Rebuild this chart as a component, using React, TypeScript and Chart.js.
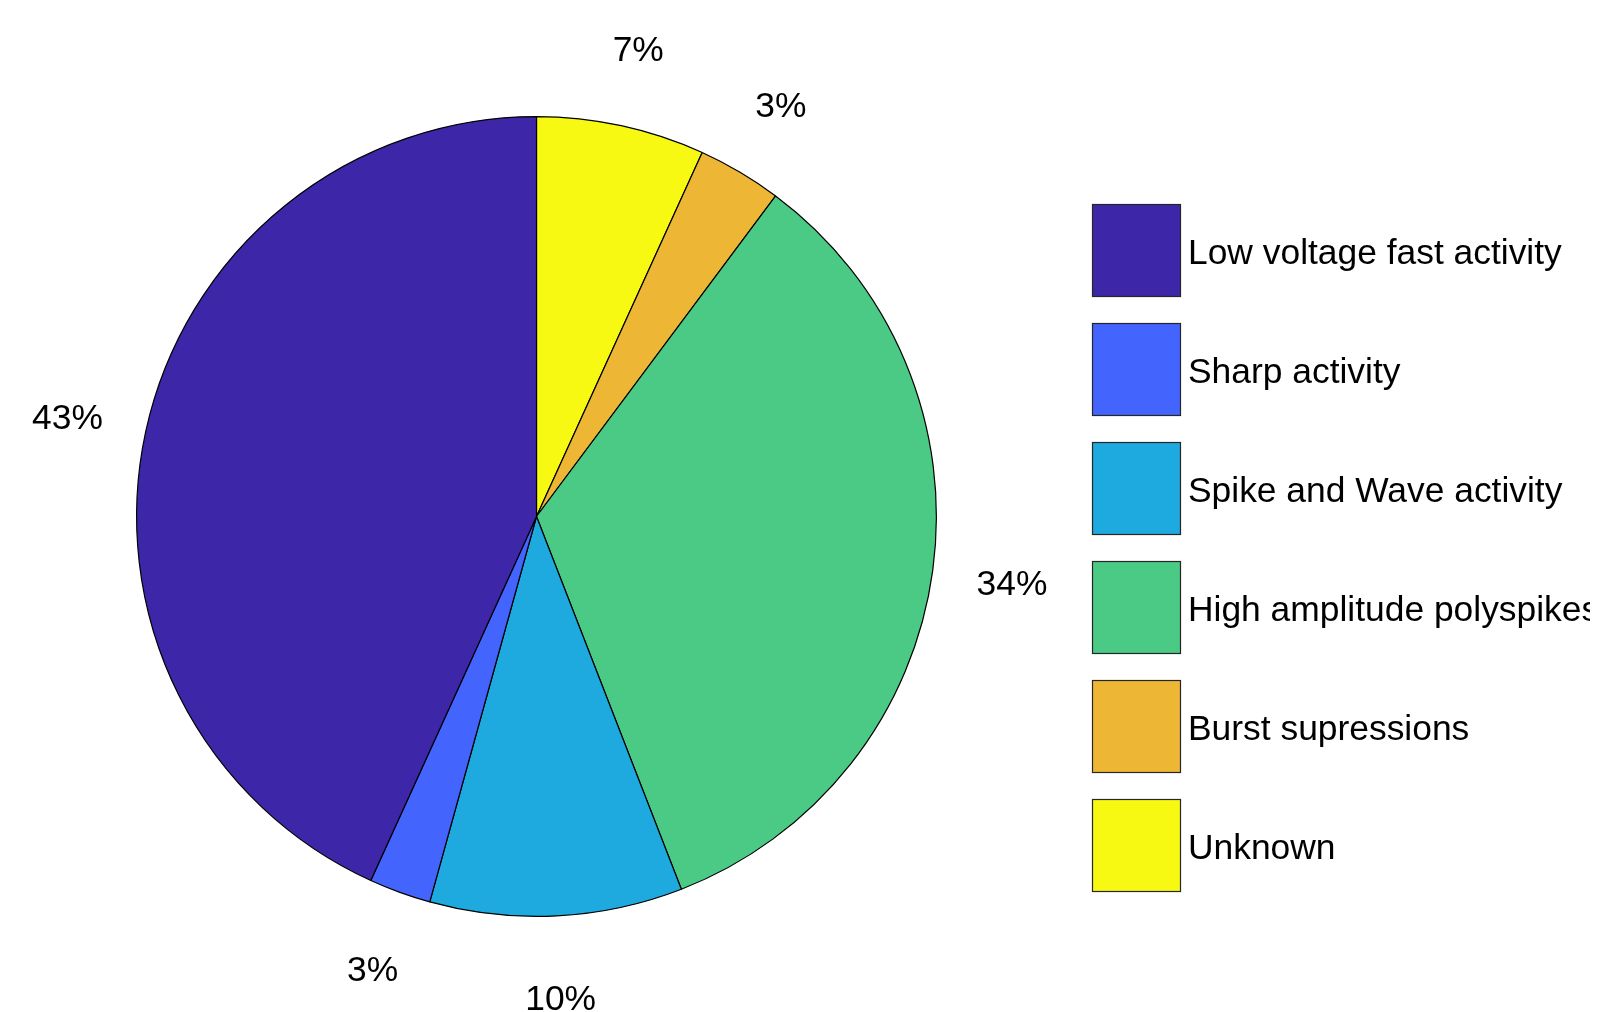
import React, { useEffect, useRef } from "react";
import { Chart, registerables } from "chart.js";

Chart.register(...registerables);

const categories = [
  "Low voltage fast activity",
  "Sharp activity",
  "Spike and Wave activity",
  "High amplitude polyspikes",
  "Burst supressions",
  "Unknown",
];
const percentages = [43.2, 2.5, 10.2, 33.9, 3.4, 6.8];
const sliceColors = ["#3E26A8", "#4464FE", "#1EA9DF", "#4ACA84", "#EDB735", "#F8F913"];

const FONT = "'Liberation Sans', Arial, Helvetica, sans-serif";

export default function App() {
  const ref = useRef<HTMLCanvasElement>(null);

  useEffect(() => {
    if (!ref.current) return;
    // MATLAB draws counter-clockwise from the top; Chart.js draws clockwise,
    // so feed the slices in reverse order.
    const order = categories.map((_, i) => categories.length - 1 - i);
    const total = percentages.reduce((a, b) => a + b, 0);

    const overlay = {
      id: "pieOverlay",
      afterDatasetsDraw(chart: any) {
        const ctx = chart.ctx as CanvasRenderingContext2D;
        const meta = chart.getDatasetMeta(0);
        const data = chart.data.datasets[0].data as number[];
        ctx.save();
        ctx.font = `35.4px ${FONT}`;
        ctx.fillStyle = "#000";
        ctx.textAlign = "center";
        ctx.textBaseline = "middle";
        meta.data.forEach((arc: any, j: number) => {
          const p = arc.getProps(["x", "y", "startAngle", "endAngle", "outerRadius"], true);
          const mid = (p.startAngle + p.endAngle) / 2;
          const r = p.outerRadius * 1.2;
          const label = Math.round((data[j] / total) * 100) + "%";
          ctx.fillText(label, p.x + r * Math.cos(mid), p.y + r * Math.sin(mid) + 4);
        });

        // legend
        const left = 1092;
        const boxW = 89;
        const boxH = 93;
        const firstTop = 204;
        const step = 119;
        ctx.beginPath();
        ctx.rect(0, 0, 1590, chart.height);
        ctx.clip();
        categories.forEach((name, i) => {
          const top = firstTop + i * step;
          ctx.fillStyle = sliceColors[i];
          ctx.fillRect(left, top, boxW, boxH);
          ctx.strokeStyle = "#262626";
          ctx.lineWidth = 1.2;
          ctx.strokeRect(left + 0.5, top + 0.5, boxW - 1, boxH - 1);
          ctx.fillStyle = "#000";
          ctx.textAlign = "left";
          ctx.textBaseline = "alphabetic";
          ctx.fillText(name, 1188, top + boxH / 2 + 13.5);
        });
        ctx.restore();
      },
    };

    const chart = new Chart(ref.current, {
      type: "pie",
      data: {
        labels: order.map((i) => categories[i]),
        datasets: [
          {
            data: order.map((i) => percentages[i]),
            backgroundColor: order.map((i) => sliceColors[i]),
            borderColor: "#000",
            borderWidth: 1.2,
          },
        ],
      },
      options: {
        responsive: false,
        animation: false,
        devicePixelRatio: 1,
        layout: { padding: { left: 136, right: 674, top: 116, bottom: 95 } },
        plugins: {
          legend: { display: false },
          tooltip: { enabled: false },
        },
      },
      plugins: [overlay],
    });
    return () => chart.destroy();
  }, []);

  return (
    <div
      style={{
        position: "fixed",
        left: 0,
        top: 0,
        width: 1611,
        height: 1012,
        background: "#fff",
      }}
    >
      <canvas ref={ref} width={1611} height={1012} style={{ width: 1611, height: 1012 }} />
    </div>
  );
}
